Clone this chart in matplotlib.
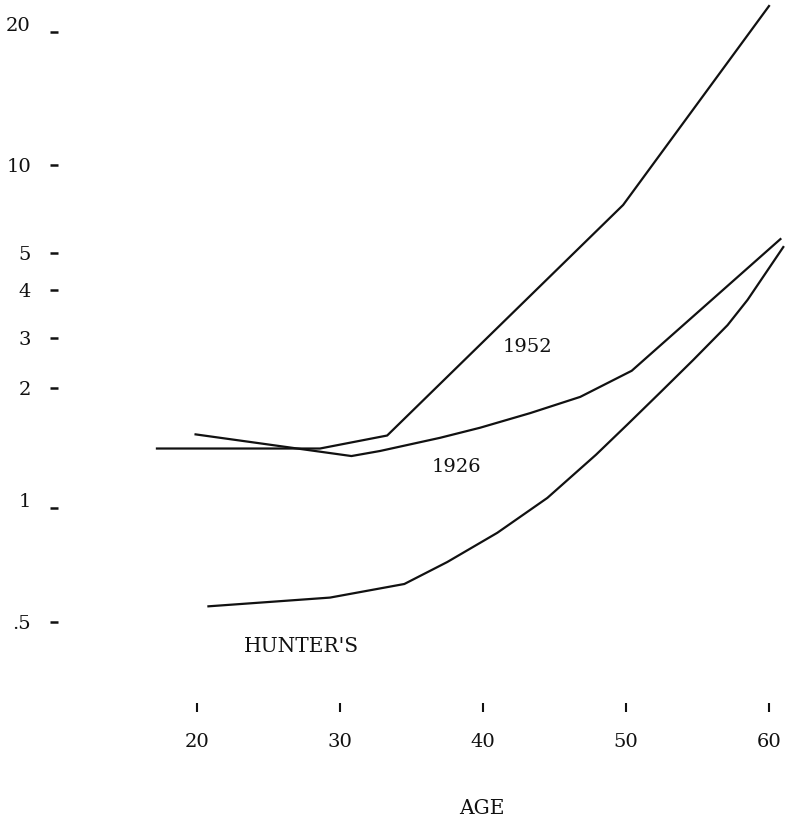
import numpy as np
import matplotlib
matplotlib.use("Agg")
import matplotlib.pyplot as plt
from matplotlib.ticker import NullLocator
from matplotlib.transforms import ScaledTranslation

# Daten
age_1952 = [17.2, 28.6, 33.3, 49.8, 60.0]
val_1952 = [1.41, 1.41, 1.52, 7.30, 22.9]

age_1926 = [19.9, 30.8, 32.8, 37.0, 39.8, 43.3, 46.8, 50.4, 60.8]
val_1926 = [1.53, 1.35, 1.39, 1.50, 1.59, 1.73, 1.90, 2.30, 5.58]

age_hunter = [20.8, 29.3, 34.5, 37.5, 41.0, 44.5, 47.9, 50.1, 52.4, 54.7, 57.1, 58.5, 61.0]
val_hunter = [0.55, 0.58, 0.63, 0.72, 0.86, 1.06, 1.36, 1.62, 1.95, 2.51, 3.24, 3.77, 5.24]

x_ticks = [20, 30, 40, 50, 60]
y_ticks = [0.5, 1, 2, 3, 4, 5, 10, 20]
y_ticklabels = [".5", "1", "2", "3", "4", "5", "10", "20"]

# handgezeichnete (nicht ganz logarithmische) y-Skala: Pixelzeilen der Striche
TICK_ROWS = np.array([622, 508, 388, 338, 290, 253, 165, 32], dtype=float)
LOG_T = np.log10(y_ticks)
POS = -TICK_ROWS

W, H = 786, 822
FONT = "DejaVu Serif"
INK = "#111111"


def _extrap(x, xp, fp):
    x = np.asarray(x, dtype=float)
    out = np.interp(x, xp, fp)
    s0 = (fp[1] - fp[0]) / (xp[1] - xp[0])
    s1 = (fp[-1] - fp[-2]) / (xp[-1] - xp[-2])
    out = np.where(x < xp[0], fp[0] + (x - xp[0]) * s0, out)
    out = np.where(x > xp[-1], fp[-1] + (x - xp[-1]) * s1, out)
    return out


def forward(v):
    v = np.clip(np.asarray(v, dtype=float), 1e-6, None)
    return _extrap(np.log10(v), LOG_T, POS)


def inverse(p):
    return 10 ** _extrap(p, POS, LOG_T)


fig = plt.figure(figsize=(W / 100, H / 100), dpi=100)
ax_left, ax_right, ax_top, ax_bottom = 150, 786, 0, 703
ax = fig.add_axes([ax_left / W, 1 - ax_bottom / H,
                   (ax_right - ax_left) / W, (ax_bottom - ax_top) / H])

ax.set_yscale("function", functions=(forward, inverse))

line_kw = dict(color=INK, lw=1.6, clip_on=False)
ax.plot(age_1952, val_1952, **line_kw)
ax.plot(age_1926, val_1926, **line_kw)
ax.plot(age_hunter, val_hunter, **line_kw)

# x: 20 -> px 197, 60 -> px 769
px_per_year = (769 - 197) / 40
ax.set_xlim(20 - (197 - ax_left) / px_per_year, 60 + (ax_right - 769) / px_per_year)
ax.set_ylim(inverse(-ax_bottom), inverse(-ax_top))

ax.set_xticks(x_ticks)
ax.set_xticklabels([str(t) for t in x_ticks])
ax.set_yticks(y_ticks)
ax.set_yticklabels(y_ticklabels)
ax.yaxis.set_minor_locator(NullLocator())
ax.xaxis.set_minor_locator(NullLocator())

for s in ["top", "right", "bottom"]:
    ax.spines[s].set_visible(False)
ax.spines["left"].set_position(("outward", (ax_left - 58) * 0.72))
ax.spines["left"].set_color("none")

ax.tick_params(axis="x", direction="out", length=6.5, width=1.5, pad=15,
               colors=INK, labelsize=14)
ax.tick_params(axis="y", direction="out", length=5.5, width=1.8, pad=14,
               colors=INK, labelsize=14)
for lab in ax.get_xticklabels() + ax.get_yticklabels():
    lab.set_fontfamily(FONT)

# bei "20" und "1" sitzt der Strich etwas unter der Zahl
for lab in ax.get_yticklabels():
    if lab.get_text() in ("20", "1"):
        lab.set_transform(lab.get_transform() + ScaledTranslation(0, 0.08, fig.dpi_scale_trans))
ax.patch.set_visible(False)


def fig_text(x, y, s, **kw):
    fig.text(x / W, 1 - y / H, s, ha="center", va="center",
             family=FONT, color=INK, **kw)


fig_text(527, 347, "1952", fontsize=14)
fig_text(456, 467, "1926", fontsize=14)
fig_text(301, 646, "HUNTER'S", fontsize=14.5)
fig_text(482, 808, "AGE", fontsize=14.5)

fig.savefig("out.png", dpi=100, facecolor="white")
